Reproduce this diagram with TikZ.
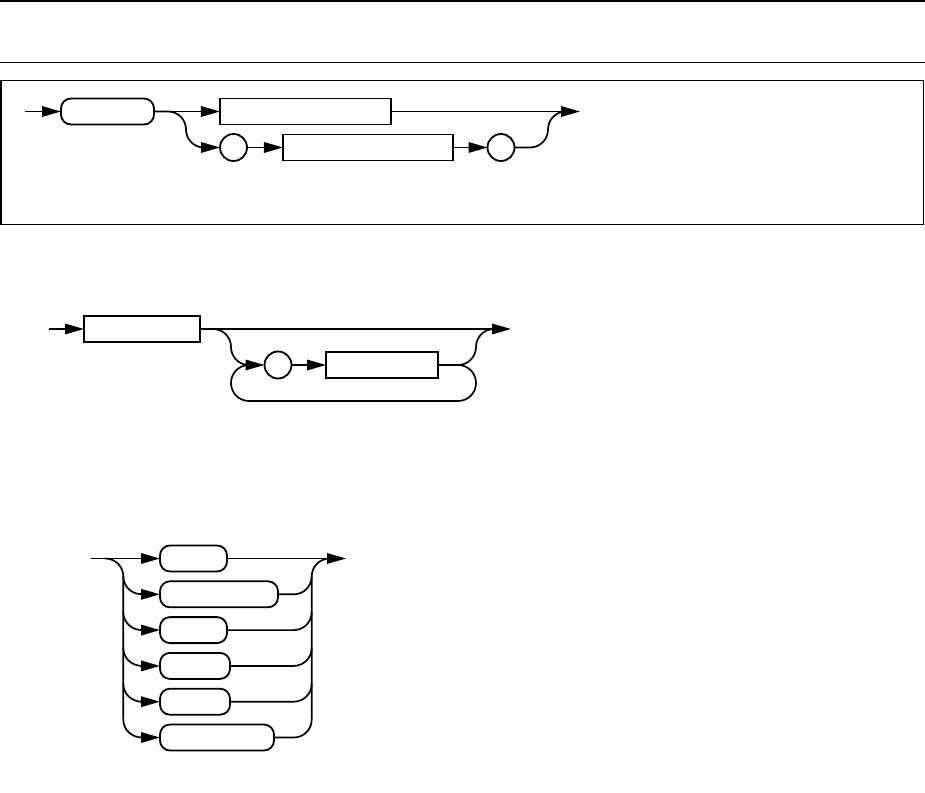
\documentclass[tikz,border=0pt]{standalone}
\usetikzlibrary{arrows.meta}
\tikzset{
  x=1pt,y=-1pt,
  conn/.style={line width=1.7pt},
  arr/.style={conn,-{Triangle[length=19pt,width=10.5pt]}},
  termbox/.style={draw,line width=1.8pt,rounded corners=10pt,minimum height=26pt,inner sep=0pt,outer sep=0pt},
  ntbox/.style={draw,line width=1.8pt,minimum height=26pt,inner sep=0pt,outer sep=0pt},
  circbox/.style={draw,circle,line width=1.8pt,minimum size=27pt,inner sep=0pt,outer sep=0pt},
  rule/.style={line width=1.5pt}
}
\begin{document}
\begin{tikzpicture}
\useasboundingbox (0,0) rectangle (925,792);
% rules and frame
\coordinate (ra) at (0,1); \coordinate (rb) at (925,1);
\coordinate (rc) at (0,62.5); \coordinate (rd) at (925,62.5);
\draw[rule] (ra) -- (rb);
\draw[rule] (rc) -- (rd);
\draw[rule] (1,80.7) rectangle (923.5,224.3);

% ---------- diagram 1 ----------
\coordinate (s1) at (25,111.5);
\coordinate (e1) at (580,111.5);
\node[termbox,minimum width=93pt] (t1) at (107.5,111.5) {};
\node[ntbox,minimum width=170.7pt] (r1) at (305.3,111.5) {};
\node[circbox] (c1) at (233.5,147.5) {};
\node[ntbox,minimum width=169.7pt] (r2) at (367.8,147.5) {};
\node[circbox] (c2) at (501,147.5) {};
\draw[arr] (s1) -- (t1.west);
\draw[arr] (t1.east) -- (r1.west);
\draw[arr] (r1.east) -- (e1);
\coordinate (b1a) at (168,111.5);
\coordinate (b1b) at (204,147.5);
\coordinate (b1c) at (201,147.5);
\draw[conn] (t1.east) -- (b1a) .. controls (178,111.5) and (186,119.5) .. (186,129.5)
  .. controls (186,139.5) and (194,147.5) .. (b1b);
\draw[arr] (b1c) -- (c1.west);
\draw[arr] (c1.east) -- (r2.west);
\draw[arr] (r2.east) -- (c2.west);
\coordinate (j1a) at (530,147.5);
\coordinate (j1b) at (566,111.5);
\draw[conn] (c2.east) -- (j1a) .. controls (540,147.5) and (548,139.5) .. (548,129.5)
  .. controls (548,119.5) and (556,111.5) .. (j1b);

% ---------- diagram 2 ----------
\coordinate (s2) at (49,329);
\coordinate (e2) at (511,329);
\node[ntbox,minimum width=116pt] (r3) at (142,329) {};
\node[circbox] (c3) at (278,365) {};
\node[ntbox,minimum width=112pt] (r4) at (382,365) {};
\draw[arr] (s2) -- (r3.west);
\draw[arr] (r3.east) -- (e2);
\coordinate (b2a) at (213,329);
\coordinate (b2b) at (249,365);
\coordinate (b2c) at (245,365);
\draw[conn] (r3.east) -- (b2a) .. controls (223,329) and (231,337) .. (231,347)
  .. controls (231,357) and (239,365) .. (b2b);
\draw[arr] (b2c) -- (c3.west);
\draw[arr] (c3.east) -- (r4.west);
\coordinate (j2a) at (458,365);
\coordinate (j2b) at (494,329);
\draw[conn] (r4.east) -- (j2a) .. controls (468,365) and (476,357) .. (476,347)
  .. controls (476,337) and (484,329) .. (j2b);
% loop back
\draw[conn] (j2a) .. controls (468,365) and (476,373) .. (476,383)
  .. controls (476,393) and (468,401) .. (458,401) -- (249,401)
  .. controls (239,401) and (231,393) .. (231,383)
  .. controls (231,373) and (239,365) .. (b2b);

% ---------- diagram 3 ----------
\coordinate (s3) at (90.7,558.5);
\coordinate (e3) at (346,558.5);
\node[termbox,minimum width=67pt] (d1) at (193.5,558.5) {};
\node[termbox,minimum width=118pt] (d2) at (219,594.3) {};
\node[termbox,minimum width=67pt] (d3) at (193.5,630.1) {};
\node[termbox,minimum width=70pt] (d4) at (195,665.9) {};
\node[termbox,minimum width=70pt] (d5) at (195,701.7) {};
\node[termbox,minimum width=114pt] (d6) at (217,737.5) {};
\draw[arr] (s3) -- (d1.west);
\draw[arr] (d1.east) -- (e3);
% left bus
\coordinate (lb0) at (105.3,558.5);
\coordinate (lb1) at (123.3,719.5);
\draw[conn] (lb0) .. controls (115.3,558.5) and (123.3,566.5) .. (123.3,576.5) -- (lb1);
% right bus
\coordinate (rb0) at (329.7,558.5);
\coordinate (rb1) at (311.7,719.5);
\draw[conn] (rb1) -- (311.7,576.5) .. controls (311.7,566.5) and (319.7,558.5) .. (rb0);
\foreach \n/\y in {d2/594.3,d3/630.1,d4/665.9,d5/701.7,d6/737.5}{
  \draw[conn] (123.3,\y-18) .. controls (123.3,\y-8) and (131.3,\y) .. (142.3,\y);
  \draw[arr] (140.3,\y) -- (\n.west);
  \draw[conn] (\n.east) -- (293.7,\y) .. controls (303.7,\y) and (311.7,\y-8) .. (311.7,\y-18);
}
\end{tikzpicture}
\end{document}
